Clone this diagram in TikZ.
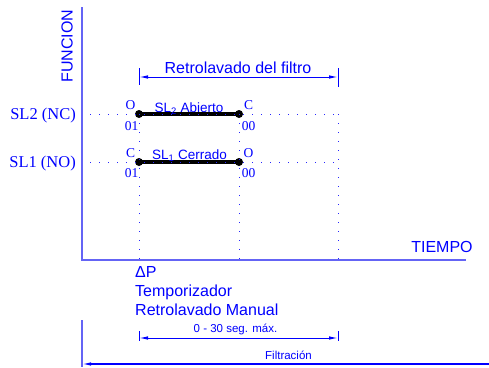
\documentclass[tikz,border=0pt]{standalone}
\usepackage{fontspec}
\setmainfont{Liberation Serif}
\setsansfont{Liberation Sans}
\usetikzlibrary{arrows.meta,positioning}
\definecolor{axblue}{RGB}{100,100,245}

\begin{document}
\begin{tikzpicture}[x=1pt,y=-1pt,
  axis/.style={draw=axblue,line width=1.6pt},
  grid/.style={draw=blue!85,line width=1pt,dash pattern=on 1pt off 8pt},
  bar/.style={line width=4pt},
  dot/.style={circle,fill=black,inner sep=0pt,minimum size=8pt},
  big/.style={text=blue,inner sep=0pt,font=\sffamily\fontsize{16}{19}\selectfont},
  serif/.style={text=blue,inner sep=0pt,font=\rmfamily\fontsize{16.5}{19}\selectfont},
  pin/.style={text=blue,inner sep=0pt,font=\rmfamily\fontsize{13.5}{15}\selectfont},
  small/.style={text=blue,inner sep=0pt,font=\sffamily\fontsize{13.5}{15}\selectfont},
  tiny/.style={text=blue,inner sep=0pt,font=\sffamily\fontsize{11.5}{13}\selectfont},
  dim/.style={draw=blue,line width=1pt,{Latex[length=9pt,width=3.5pt]}-{Latex[length=9pt,width=3.5pt]}},
  tick/.style={draw=blue,line width=1pt}]
\useasboundingbox (0,0) rectangle (489,367);

\coordinate (ytop) at (82,7);
\coordinate (orig) at (82,260);
\coordinate (xend) at (466,260);
\coordinate (ybot) at (82,320);
\coordinate (ylow) at (82,367);
\draw[axis] (ytop) -- (orig) -- (xend);
\draw[axis] (ybot) -- (ylow);

\node[big,rotate=90] (fun) at (67,46) {FUNCION};
\node[big] (tiempo) at (442,247) {TIEMPO};
\node[serif,anchor=base east] (sl2) at (76,119) {SL2 (NC)};
\node[serif,anchor=base east] (sl1) at (76,167) {SL1 (NO)};

\node[dot] (a1) at (139,114) {};
\node[dot] (a2) at (239,114) {};
\node[dot] (b1) at (139,162) {};
\node[dot] (b2) at (239,162) {};
\draw[bar] (a1.center) -- (a2.center);
\draw[bar] (b1.center) -- (b2.center);

\coordinate (g2l) at (90,114);
\coordinate (g2r) at (338,114);
\coordinate (g1l) at (90,162);
\coordinate (g1r) at (338,162);
\coordinate (v1) at (139,260);
\coordinate (v2) at (239,260);
\coordinate (v3) at (338,260);
\draw[grid] (g2l) -- (g2r);
\draw[grid] (g1l) -- (g1r);
\draw[grid] (a1.center) -- (v1);
\draw[grid] (a2.center) -- (v2);
\draw[grid] (g2r) -- (v3);

\node[pin] (o2) at (130.5,105.5) {O};
\node[pin] (n2) at (131.5,126) {01};
\node[pin] (c2) at (248.5,105) {C};
\node[pin] (m2) at (248.5,126) {00};
\node[pin] (c1) at (130.5,153) {C};
\node[pin] (n1) at (131.5,173.5) {01};
\node[pin] (o1) at (248.5,153) {O};
\node[pin] (m1) at (248.5,173.5) {00};
\node[small,anchor=base] (abierto) at (189,112) {SL\textsubscript{2} Abierto};
\node[small,anchor=base] (cerrado) at (189.5,159) {SL\textsubscript{1} Cerrado};

\coordinate (t1a) at (139,68);
\coordinate (t1b) at (139,85);
\coordinate (t2a) at (338,68);
\coordinate (t2b) at (338,87);
\coordinate (r1) at (139,77);
\coordinate (r2) at (338,77);
\draw[tick] (t1a) -- (t1b);
\draw[tick] (t2a) -- (t2b);
\draw[dim] (r1) -- (r2);
\node[big] (retro) at (238,68) {Retrolavado del filtro};

\node[big,anchor=base west] (dp) at (135,277) {ΔP};
\node[big,anchor=base west] (temp) at (135,296) {Temporizador};
\node[big,anchor=base west] (manual) at (135,315) {Retrolavado Manual};

\coordinate (s1a) at (139,331);
\coordinate (s1b) at (139,341);
\coordinate (s2a) at (338,331);
\coordinate (s2b) at (338,341);
\coordinate (q1) at (139,338);
\coordinate (q2) at (338,338);
\draw[tick] (s1a) -- (s1b);
\draw[tick] (s2a) -- (s2b);
\draw[dim] (q1) -- (q2);
\node[tiny,anchor=base] (seg) at (235.5,332) {0 - 30 seg. máx.};

\coordinate (fr) at (489,364);
\coordinate (fl) at (82,364);
\draw[draw=blue,line width=1.2pt,-{Latex[length=9pt,width=3.5pt]}] (fr) -- (fl);
\node[tiny,anchor=base] (filt) at (288.5,359) {Filtración};
\end{tikzpicture}
\end{document}
